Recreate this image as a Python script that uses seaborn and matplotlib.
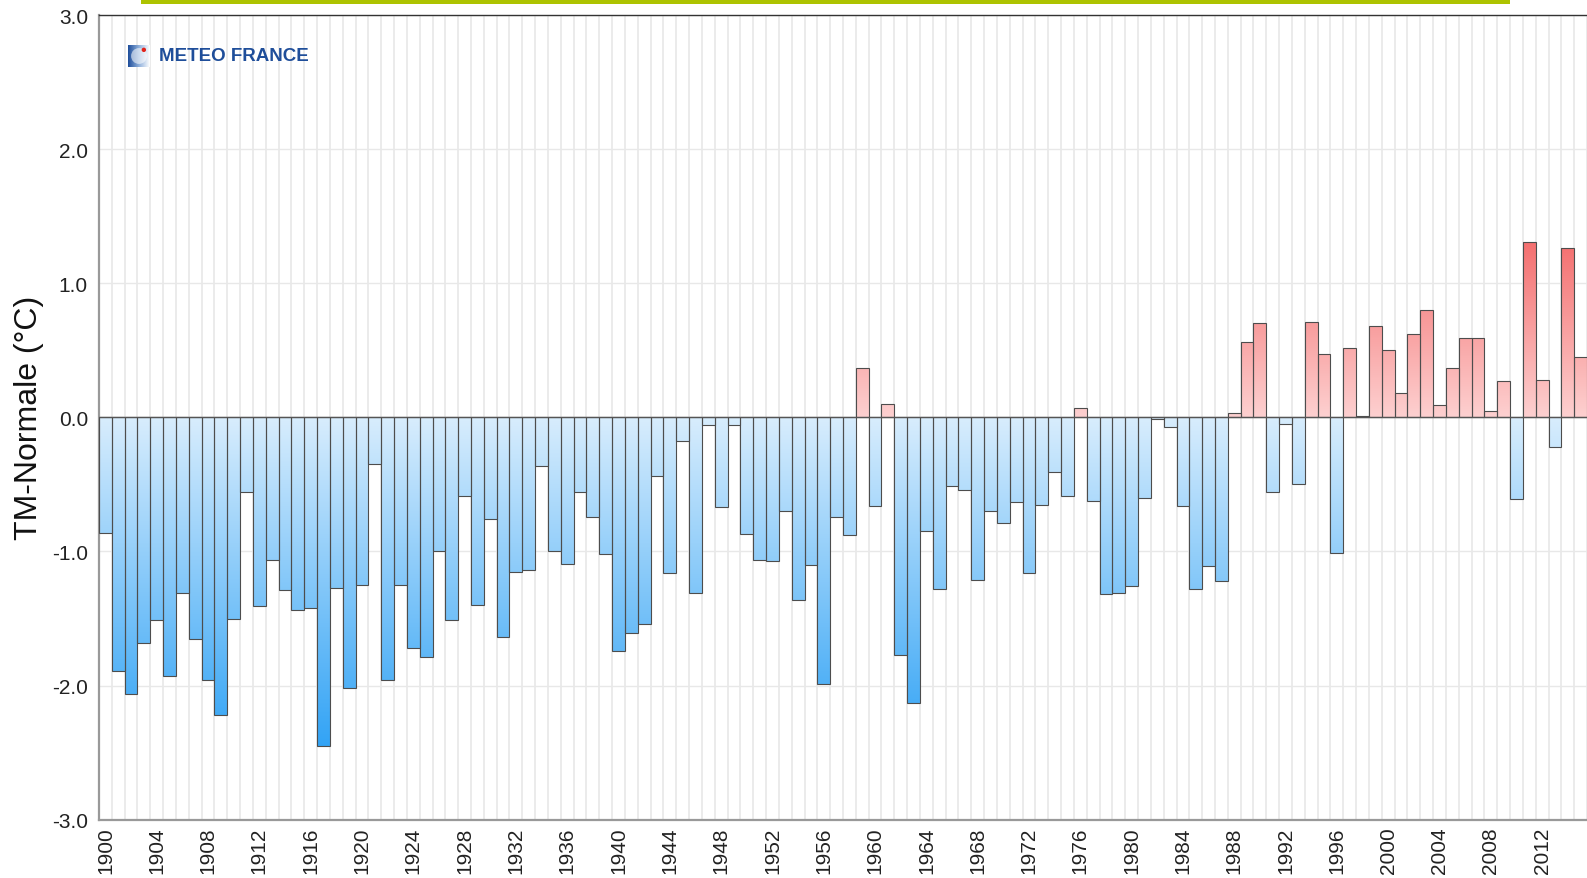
import numpy as np
import matplotlib
matplotlib.use("Agg")
import matplotlib.pyplot as plt
import seaborn as sns
from matplotlib.colors import LinearSegmentedColormap
from matplotlib.patches import Rectangle, Circle

# --- data ---
years = list(range(1900, 2016))
anomalies = [
    -0.86, -1.89, -2.06, -1.68, -1.51, -1.93, -1.31, -1.65, -1.96, -2.22,  # 1900-1909
    -1.50, -0.56, -1.41, -1.06, -1.29, -1.44, -1.42, -2.45, -1.27, -2.02,  # 1910-1919
    -1.25, -0.35, -1.96, -1.25, -1.72, -1.79, -1.00, -1.51, -0.59, -1.40,  # 1920-1929
    -0.76, -1.64, -1.15, -1.14, -0.36, -1.00, -1.09, -0.56, -0.74, -1.02,  # 1930-1939
    -1.74, -1.61, -1.54, -0.44, -1.16, -0.18, -1.31, -0.06, -0.67, -0.06,  # 1940-1949
    -0.87, -1.06, -1.07, -0.70, -1.36, -1.10, -1.99, -0.74, -0.88, 0.37,   # 1950-1959
    -0.66, 0.10, -1.77, -2.13, -0.85, -1.28, -0.51, -0.54, -1.21, -0.70,   # 1960-1969
    -0.79, -0.63, -1.16, -0.65, -0.41, -0.59, 0.07, -0.62, -1.32, -1.31,   # 1970-1979
    -1.26, -0.60, -0.01, -0.07, -0.66, -1.28, -1.11, -1.22, 0.03, 0.56,    # 1980-1989
    0.70, -0.56, -0.05, -0.50, 0.71, 0.47, -1.01, 0.52, 0.01, 0.68,        # 1990-1999
    0.50, 0.18, 0.62, 0.80, 0.09, 0.37, 0.59, 0.59, 0.05, 0.27,            # 2000-2009
    -0.61, 1.31, 0.28, -0.22, 1.26, 0.45,                                  # 2010-2015
]
tick_years = list(range(1900, 2016, 4))
y_ticks = [-3.0, -2.0, -1.0, 0.0, 1.0, 2.0, 3.0]
y_label = 'TM-Normale (°C)'
logo_text = 'METEO FRANCE'

W, H = 1587, 879
sns.set_style("white")
plt.rcParams['font.family'] = ['Liberation Sans', 'DejaVu Sans']

fig = plt.figure(figsize=(W / 100, H / 100), dpi=100)
ax = fig.add_axes([99 / W, 1 - 820.7 / H, 1 - 99 / W, (820.7 - 16) / H])

sns.barplot(x=years, y=anomalies, native_scale=True, width=1.0, color='white',
            errorbar=None, edgecolor='#4d4d4d', linewidth=0.8, ax=ax, zorder=3)

# gradient fills, clipped to each bar
neg_cmap = LinearSegmentedColormap.from_list('neg', ['#d8edfd', '#2fa2f5'])
pos_cmap = LinearSegmentedColormap.from_list('pos', ['#fdd0d0', '#f46c6c'])
grad = np.linspace(0, 1, 256).reshape(-1, 1)
for bar in ax.patches:
    bar.set_facecolor('none')
    x0, w, h = bar.get_x(), bar.get_width(), bar.get_height()
    if h < 0:
        img = ax.imshow(grad, cmap=neg_cmap, extent=[x0, x0 + w, -2.5, 0],
                        origin='upper', aspect='auto', zorder=2)
    else:
        img = ax.imshow(grad, cmap=pos_cmap, extent=[x0, x0 + w, 0, 1.35],
                        origin='lower', aspect='auto', zorder=2)
    img.set_clip_path(bar)

ax.axhline(0, color='#555555', lw=1.0, zorder=4)

ax.set_xlim(1899.5, 1899.5 + (W - 99) / 12.9)
ax.set_ylim(-3, 3)
ax.set_xticks(tick_years)
ax.set_xticklabels([str(y) for y in tick_years], rotation=90)
ax.set_xticks(np.arange(1899.5, 2016, 1.0), minor=True)
ax.set_yticks(y_ticks)
ax.set_yticklabels([f'{v:.1f}' for v in y_ticks])

ax.set_axisbelow(True)
ax.xaxis.grid(True, which='minor', color='#e8e8e8', lw=1.2)
ax.xaxis.grid(False, which='major')
ax.yaxis.grid(True, which='major', color='#e8e8e8', lw=1.0)

ax.tick_params(axis='x', which='both', length=0, pad=5, labelsize=15, labelcolor='#222222')
ax.tick_params(axis='y', length=4, width=1, color='#333333', pad=4, labelsize=15, labelcolor='#222222')
ax.set_xlabel('')
ax.set_ylabel(y_label, fontsize=23, labelpad=6, color='#111111')

ax.spines['right'].set_visible(False)
ax.spines['top'].set_color('#333333')
ax.spines['top'].set_linewidth(1.0)
for side in ('left', 'bottom'):
    ax.spines[side].set_color('#999999')
    ax.spines[side].set_linewidth(1.6)

# green band on top
fig.add_artist(Rectangle((141 / W, 1 - 5 / H), (1510 - 141) / W, 5 / H,
                         transform=fig.transFigure, color='#adc300', lw=0))

# logo
icon = fig.add_axes([128 / W, 1 - 68 / H, 22 / W, 22 / H])
icon.imshow(np.linspace(0, 1, 64).reshape(1, -1), cmap=LinearSegmentedColormap.from_list(
    'logo', ['#1f4e9a', '#8fb0dc', '#ffffff']), extent=[0, 1, 0, 1], aspect='auto')
icon.add_patch(Circle((0.5, 0.5), 0.36, facecolor='white', alpha=0.55, lw=0))
icon.add_patch(Circle((0.72, 0.78), 0.1, facecolor='#e2231a', lw=0))
icon.set_xlim(0, 1)
icon.set_ylim(0, 1)
icon.axis('off')
fig.text(159 / W, 1 - 56.5 / H, logo_text, fontsize=13.5, fontweight='bold',
         color='#1f4e9a', va='center', ha='left')

fig.savefig('out.png', dpi=100)
